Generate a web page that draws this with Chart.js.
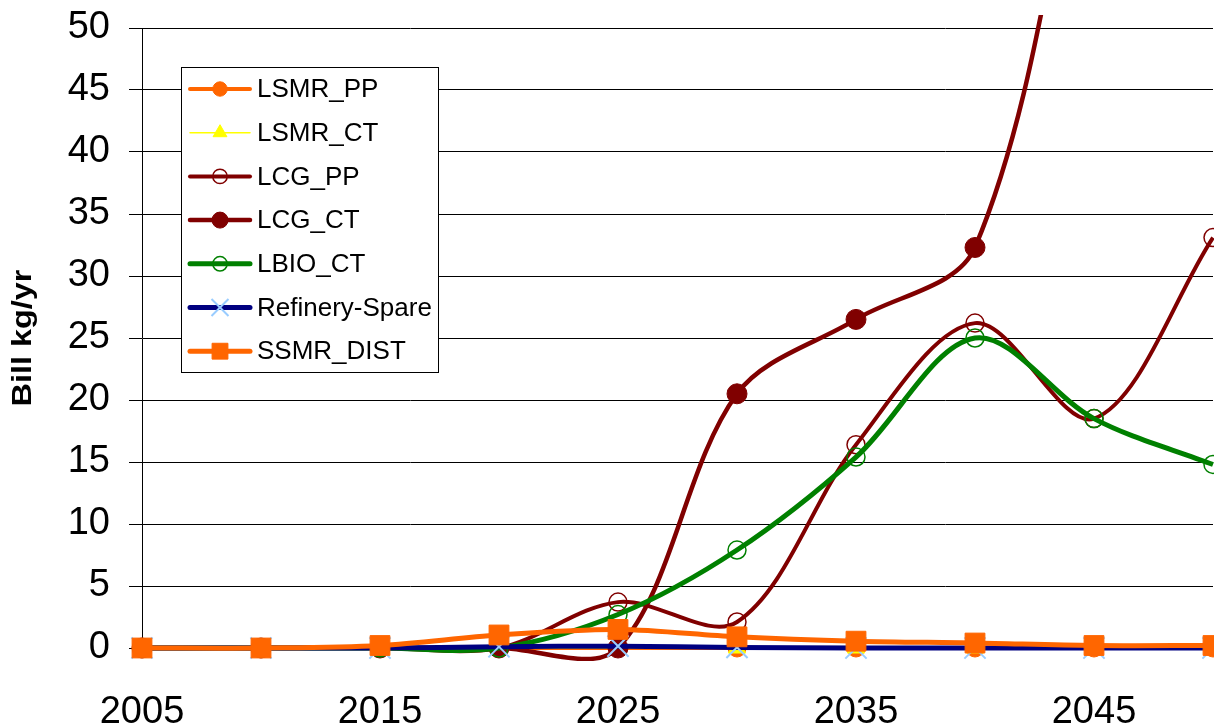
<!DOCTYPE html>
<html>
<head>
<meta charset="utf-8">
<title>Bill kg/yr</title>
<script src="https://cdn.jsdelivr.net/npm/chart.js@4.4.1/dist/chart.umd.min.js"></script>
<style>
    html, body { margin: 0; padding: 0; background: #fff; overflow: hidden; }
    #chart-wrap { position: relative; width: 1230px; height: 725px; }
</style>
</head>
<body>
<div id="chart-wrap">
    <canvas id="productionChart" width="1230" height="725"></canvas>
</div>
<script>
// Data (5-year steps)
const years = [2005, 2010, 2015, 2020, 2025, 2030, 2035, 2040, 2045, 2050]
const xTickValues = [2005, 2015, 2025, 2035, 2045]
const yTickValues = [0, 5, 10, 15, 20, 25, 30, 35, 40, 45, 50]

const lsmrPP = [0, 0, 0, 0, 0, 0, 0, 0, 0, 0]
const lsmrCT = [0, 0, 0, 0, 0, 0, 0, 0, 0, 0]
const lcgPP = [0, 0, 0, 0, 3.7, 2.1, 16.4, 26.2, 18.5, 33.1]
const lcgCT = [0, 0, 0, 0, 0, 20.5, 26.5, 32.3, 72, 110]
const lbioCT = [0, 0, 0, 0, 2.7, 7.9, 15.4, 25.0, 18.5, 14.8]
const refinerySpare = [0, 0, 0, 0.1, 0.15, 0.05, 0, 0, 0, 0]
const ssmrDist = [0, 0, 0.2, 1.05, 1.5, 0.9, 0.55, 0.4, 0.2, 0.2]

const FONT = '"Liberation Sans", Arial, sans-serif'

function toPoints(values) {
    return values.map((v, i) => ({ x: years[i], y: v }))
}

// line + marker style per series (Excel-like)
function makeSeries(label, values, opts, i) {
    return {
        label: label,
        data: toPoints(values),
        borderColor: opts.line,
        borderWidth: opts.width,
        pointStyle: opts.style,
        pointRadius: opts.radius,
        pointBackgroundColor: opts.fill,
        pointBorderColor: opts.edge,
        pointBorderWidth: opts.edgeWidth,
        tension: 0.33,
        fill: false,
        order: 7 - i, // later series drawn on top
        clip: { left: 30, top: 13, right: 30, bottom: 13 }
    }
}

const datasets = [
    makeSeries('LSMR_PP', lsmrPP, { line: '#FF6600', width: 4, style: 'circle', radius: 9, fill: '#FF6600', edge: '#FF6600', edgeWidth: 1 }, 0),
    makeSeries('LSMR_CT', lsmrCT, { line: '#FFFF00', width: 1.5, style: 'triangle', radius: 10, fill: '#FFFF00', edge: '#FFFF00', edgeWidth: 1 }, 1),
    makeSeries('LCG_PP', lcgPP, { line: '#800000', width: 4, style: 'circle', radius: 9, fill: 'rgba(0,0,0,0)', edge: '#800000', edgeWidth: 1.5 }, 2),
    makeSeries('LCG_CT', lcgCT, { line: '#800000', width: 4.5, style: 'circle', radius: 10, fill: '#800000', edge: '#800000', edgeWidth: 1 }, 3),
    makeSeries('LBIO_CT', lbioCT, { line: '#008000', width: 5, style: 'circle', radius: 9, fill: 'rgba(0,0,0,0)', edge: '#008000', edgeWidth: 1.5 }, 4),
    makeSeries('Refinery-Spare', refinerySpare, { line: '#000080', width: 5, style: 'crossRot', radius: 15, fill: '#99CCFF', edge: '#99CCFF', edgeWidth: 2 }, 5),
    makeSeries('SSMR_DIST', ssmrDist, { line: '#FF6600', width: 5, style: 'rect', radius: 14, fill: '#FF6600', edge: '#FF6600', edgeWidth: 1 }, 6)
]

// Legend box + stretched y title, drawn on the canvas
const legendBox = {
    id: 'legendBox',
    afterDatasetsDraw(chart) {
        const ctx = chart.ctx
        ctx.save()
        ctx.fillStyle = '#fff'
        ctx.fillRect(181, 67, 258, 306)
        ctx.strokeStyle = '#000'
        ctx.lineWidth = 1
        ctx.strokeRect(181.5, 67.5, 257, 305)

        chart.data.datasets.forEach((ds, i) => {
            const y = 89 + i * 43.7
            ctx.strokeStyle = ds.borderColor
            ctx.lineWidth = ds.borderWidth
            ctx.lineCap = 'round'
            ctx.beginPath()
            ctx.moveTo(190, y)
            ctx.lineTo(250, y)
            ctx.stroke()

            ctx.fillStyle = ds.pointBackgroundColor
            ctx.strokeStyle = ds.pointBorderColor
            ctx.lineWidth = ds.pointBorderWidth
            ctx.lineCap = 'butt'
            Chart.helpers.drawPoint(ctx, {
                pointStyle: ds.pointStyle,
                radius: ds.pointRadius * 0.8,
                rotation: 0,
                borderWidth: ds.pointBorderWidth
            }, 220, y)

            ctx.fillStyle = '#000'
            ctx.font = '26px ' + FONT
            ctx.textAlign = 'left'
            ctx.textBaseline = 'middle'
            ctx.fillText(ds.label, 257, y + 1)
        })
        ctx.restore()

        // axis title, Excel stretches it along its length
        const area = chart.chartArea
        ctx.save()
        ctx.translate(24, (area.top + area.bottom) / 2)
        ctx.rotate(-Math.PI / 2)
        ctx.scale(1.2, 1)
        ctx.fillStyle = '#000'
        ctx.font = 'bold 27px ' + FONT
        ctx.textAlign = 'center'
        ctx.textBaseline = 'middle'
        ctx.fillText('Bill kg/yr', 0, 0)
        ctx.restore()
    }
}

const ctx = document.getElementById('productionChart').getContext('2d')

new Chart(ctx, {
    type: 'line',
    data: { datasets: datasets },
    options: {
        responsive: false,
        animation: false,
        events: [],
        layout: { padding: { top: 28, right: 8, left: 0, bottom: 0 } },
        elements: {
            line: { capBezierPoints: false }
        },
        plugins: {
            legend: { display: false },
            tooltip: { enabled: false }
        },
        scales: {
            x: {
                type: 'linear',
                min: 2005,
                max: 2050,
                afterBuildTicks: (scale) => {
                    scale.ticks = xTickValues.map(v => ({ value: v }))
                },
                afterFit: (scale) => { scale.height = 77 },
                ticks: {
                    autoSkip: false,
                    maxRotation: 0,
                    color: '#000',
                    padding: 34,
                    font: { family: FONT, size: 38 },
                    callback: (value) => String(value)
                },
                grid: {
                    drawOnChartArea: false,
                    drawTicks: true,
                    tickLength: 8,
                    tickColor: '#000'
                },
                border: { display: true, color: '#000', width: 1 }
            },
            y: {
                min: 0,
                max: 50,
                afterBuildTicks: (scale) => {
                    scale.ticks = yTickValues.map(v => ({ value: v }))
                },
                afterFit: (scale) => {
                    scale.width = 142
                    // keep the plot top at the 28px padding
                    scale.paddingTop = 0
                    scale.paddingBottom = 0
                },
                ticks: {
                    color: '#000',
                    padding: 19,
                    font: { family: FONT, size: 38 }
                },
                grid: {
                    color: '#000',
                    lineWidth: 1,
                    tickLength: 13,
                    tickColor: '#000'
                },
                border: { display: true, color: '#000', width: 1 }
            }
        }
    },
    plugins: [legendBox]
})
</script>
</body>
</html>
